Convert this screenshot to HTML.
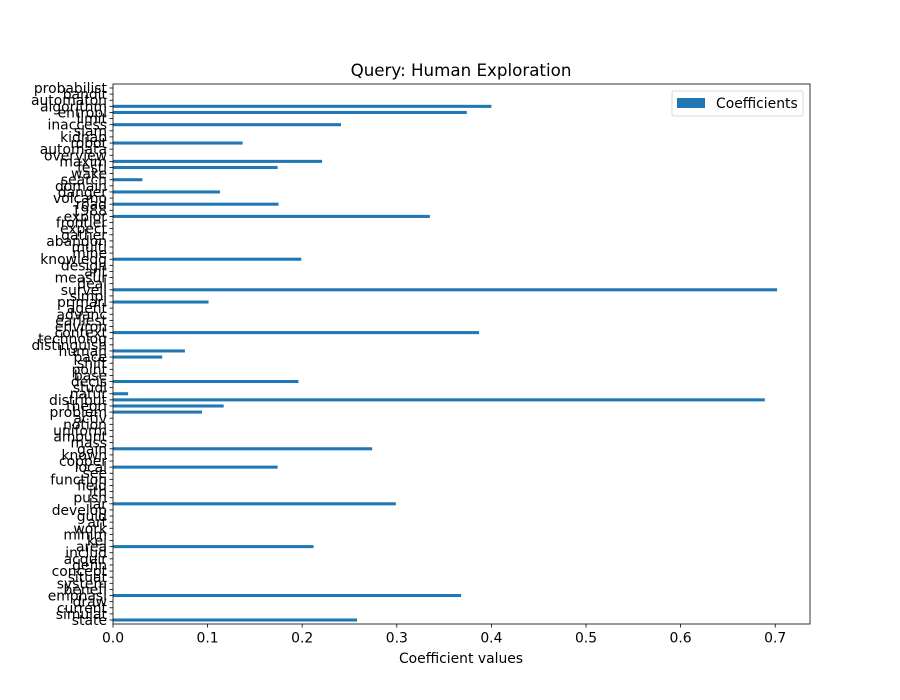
<!DOCTYPE html>
<html><head><meta charset="utf-8"><style>
body{margin:0;background:#fff}
svg{display:block;font-family:"DejaVu Sans","Liberation Sans",sans-serif}
</style></head><body>
<svg id="chart" width="900" height="700"></svg>
<script>
const categories=["probabilist","bandit","automaton","algorithm","entropi","limit","inaccess","slam","kidnap","robot","automata","overview","maxim","festi","wake","search","domain","danger","volcano","road","1988","explor","frontier","expect","gather","abandon","multi","mine","knowledg","design","ant","measur","deal","surveil","simpl","primari","agent","advanc","earliest","environ","context","technolog","distinguish","human","pace","shift","point","base","decis","studi","natur","distribut","theori","problem","activ","notion","uniform","amount","mass","gain","known","copper","local","see","function","field","ith","push","lar","develop","guid","art","work","minim","kei","area","includ","acquir","defin","concept","situat","system","benefi","emphasi","draw","current","simulat","state"];
const values=[0,0,0,0.400,0.374,0,0.241,0,0,0.137,0,0,0.221,0.174,0,0.031,0,0.113,0,0.175,0,0.335,0,0,0,0,0,0,0.199,0,0,0,0,0.702,0,0.101,0,0,0,0,0.387,0,0,0.076,0.052,0,0,0,0.196,0,0.016,0.689,0.117,0.094,0,0,0,0,0,0.274,0,0,0.174,0,0,0,0,0,0.299,0,0,0,0,0,0,0.212,0,0,0,0,0,0,0,0.368,0,0,0,0.258];
const xTicks=[0,0.1,0.2,0.3,0.4,0.5,0.6,0.7];
const xTickLabels=["0.0","0.1","0.2","0.3","0.4","0.5","0.6","0.7"];

const NS="http://www.w3.org/2000/svg";
const svg=document.getElementById('chart');
const L=113,R=810,T=84,B=624;
const xs=v=>L+v*946;
const n=categories.length;
const step=(620-88)/(n-1);
const ys=i=>620-(n-1-i)*step;
function mk(tag,attrs,text){const e=document.createElementNS(NS,tag);for(const k in attrs)e.setAttribute(k,attrs[k]);if(text!==undefined)e.textContent=text;svg.appendChild(e);return e;}

let t=mk('text',{x:461,y:76,'text-anchor':'middle','font-size':16.7,fill:'#000'},'Query: Human Exploration');



categories.forEach((c,i)=>{
  const y=ys(i);
  const b=mk('rect',{x:xs(0),y:y-step*0.25,width:Math.max(0,xs(values[i])-xs(0)),height:step*0.5,fill:'#1f77b4'});
  
  
  const tk=mk('line',{x1:L-3.5,x2:L,y1:y,y2:y,stroke:'#000','stroke-width':0.8});
  
  
  const lb=mk('text',{x:L-6,y:y+5,'text-anchor':'end','font-size':13.9,fill:'#000'},c);
  
  
});

xTicks.forEach((v,i)=>{
  const x=xs(v);
  const tk=mk('line',{x1:x,x2:x,y1:B,y2:B+3.5,stroke:'#000','stroke-width':0.8});
  
  
  const lb=mk('text',{x:x,y:B+18.5,'text-anchor':'middle','font-size':13.9,fill:'#000'},xTickLabels[i]);
  
  
});

const frame=mk('rect',{x:L,y:T,width:R-L,height:B-T,fill:'none',stroke:'#000','stroke-width':0.8});



const xl=mk('text',{x:461,y:663,'text-anchor':'middle','font-size':13.9,fill:'#000'},'Coefficient values');



const lg=mk('rect',{x:672,y:91,width:131,height:25,rx:2,fill:'#fff','fill-opacity':0.8,stroke:'#ccc','stroke-width':0.8});


const lp=mk('rect',{x:677,y:98,width:28,height:10,fill:'#1f77b4'});


const lt=mk('text',{x:716,y:108,'font-size':13.9,fill:'#000'},'Coefficients');


</script>
</body></html>
